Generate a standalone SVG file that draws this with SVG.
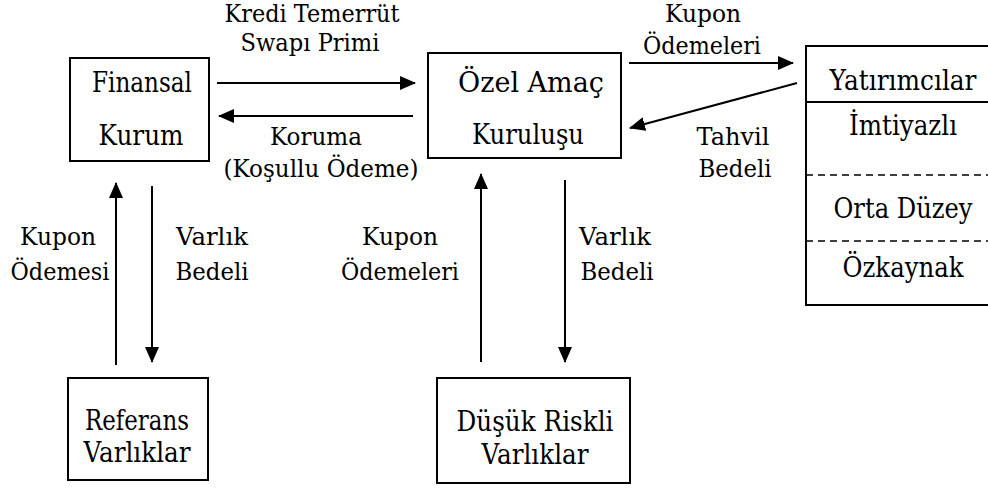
<svg xmlns="http://www.w3.org/2000/svg" width="988" height="488" viewBox="0 0 988 488">
  <style>
    .box { fill: #fff; stroke: #000; stroke-width: 2; }
    text { font-family: 'DejaVu Serif', 'Liberation Serif', serif; fill: #000; text-anchor: middle; }
    .node { font-size: 27px; }
    .lbl { font-size: 24.5px; }
    .flow { stroke: #000; stroke-width: 2; fill: none; marker-end: url(#head); }
    .sep { stroke: #000; stroke-width: 2; }
    .dash { stroke: #000; stroke-width: 1.5; stroke-dasharray: 7 5; }
  </style>
  <defs>
    <marker id="head" markerUnits="userSpaceOnUse" markerWidth="16" markerHeight="14" viewBox="0 0 16 14" refX="15" refY="7" orient="auto">
      <path d="M0,0 L16,7 L0,14 Z" fill="#000"/>
    </marker>
  </defs>

  <rect width="988" height="488" fill="#fff"/>

  <g id="finansal-kurum">
    <rect class="box" x="70" y="58" width="139" height="103"/>
    <text class="node" x="142" y="92" textLength="100" lengthAdjust="spacingAndGlyphs">Finansal</text>
    <text class="node" x="141" y="145" textLength="85" lengthAdjust="spacingAndGlyphs">Kurum</text>
  </g>

  <g id="ozel-amac-kurulusu">
    <rect class="box" x="428" y="53" width="193" height="105"/>
    <text class="node" x="531" y="92" textLength="146" lengthAdjust="spacingAndGlyphs">Özel Amaç</text>
    <text class="node" x="528" y="144" textLength="112" lengthAdjust="spacingAndGlyphs">Kuruluşu</text>
  </g>

  <g id="yatirimcilar">
    <rect class="box" x="806" y="46" width="190" height="259"/>
    <line class="sep" x1="806" y1="102" x2="988" y2="102"/>
    <line class="dash" x1="806" y1="175" x2="988" y2="175"/>
    <line class="dash" x1="806" y1="241" x2="988" y2="241"/>
    <text class="node" x="903" y="90" textLength="147" lengthAdjust="spacingAndGlyphs">Yatırımcılar</text>
    <text class="node" x="903" y="135" textLength="108" lengthAdjust="spacingAndGlyphs">İmtiyazlı</text>
    <text class="node" x="903" y="218" textLength="139" lengthAdjust="spacingAndGlyphs">Orta Düzey</text>
    <text class="node" x="903" y="277" textLength="121" lengthAdjust="spacingAndGlyphs">Özkaynak</text>
  </g>

  <g id="referans-varliklar">
    <rect class="box" x="68" y="378" width="140" height="102"/>
    <text class="node" x="137" y="430" textLength="104" lengthAdjust="spacingAndGlyphs">Referans</text>
    <text class="node" x="137" y="462" textLength="107" lengthAdjust="spacingAndGlyphs">Varlıklar</text>
  </g>

  <g id="dusuk-riskli-varliklar">
    <rect class="box" x="437" y="378" width="193" height="105"/>
    <text class="node" x="535" y="431" textLength="157" lengthAdjust="spacingAndGlyphs">Düşük Riskli</text>
    <text class="node" x="535" y="464" textLength="107" lengthAdjust="spacingAndGlyphs">Varlıklar</text>
  </g>

  <g id="connectors">
    <line class="flow" x1="217" y1="83" x2="415" y2="83"/>
    <line class="flow" x1="413" y1="116" x2="219" y2="116"/>
    <line class="flow" x1="629" y1="63" x2="793" y2="63"/>
    <line class="flow" x1="797" y1="83" x2="630" y2="128"/>
    <line class="flow" x1="116" y1="365" x2="116" y2="183"/>
    <line class="flow" x1="152" y1="186" x2="152" y2="362"/>
    <line class="flow" x1="481" y1="362" x2="481" y2="174"/>
    <line class="flow" x1="565" y1="180" x2="565" y2="362"/>
  </g>

  <g id="labels">
    <text class="lbl" x="312" y="22" textLength="175" lengthAdjust="spacingAndGlyphs">Kredi Temerrüt</text>
    <text class="lbl" x="310" y="51" textLength="139" lengthAdjust="spacingAndGlyphs">Swapı Primi</text>
    <text class="lbl" x="316" y="145" textLength="92" lengthAdjust="spacingAndGlyphs">Koruma</text>
    <text class="lbl" x="321" y="177" textLength="195" lengthAdjust="spacingAndGlyphs">(Koşullu Ödeme)</text>
    <text class="lbl" x="703" y="22" textLength="76" lengthAdjust="spacingAndGlyphs">Kupon</text>
    <text class="lbl" x="702" y="54" textLength="118" lengthAdjust="spacingAndGlyphs">Ödemeleri</text>
    <text class="lbl" x="733" y="145" textLength="73" lengthAdjust="spacingAndGlyphs">Tahvil</text>
    <text class="lbl" x="735" y="177" textLength="73" lengthAdjust="spacingAndGlyphs">Bedeli</text>
    <text class="lbl" x="58" y="245" textLength="76" lengthAdjust="spacingAndGlyphs">Kupon</text>
    <text class="lbl" x="60" y="280" textLength="99" lengthAdjust="spacingAndGlyphs">Ödemesi</text>
    <text class="lbl" x="212" y="245" textLength="72" lengthAdjust="spacingAndGlyphs">Varlık</text>
    <text class="lbl" x="212" y="280" textLength="73" lengthAdjust="spacingAndGlyphs">Bedeli</text>
    <text class="lbl" x="400" y="245" textLength="76" lengthAdjust="spacingAndGlyphs">Kupon</text>
    <text class="lbl" x="400" y="280" textLength="118" lengthAdjust="spacingAndGlyphs">Ödemeleri</text>
    <text class="lbl" x="615" y="245" textLength="72" lengthAdjust="spacingAndGlyphs">Varlık</text>
    <text class="lbl" x="617" y="280" textLength="73" lengthAdjust="spacingAndGlyphs">Bedeli</text>
  </g>
</svg>
